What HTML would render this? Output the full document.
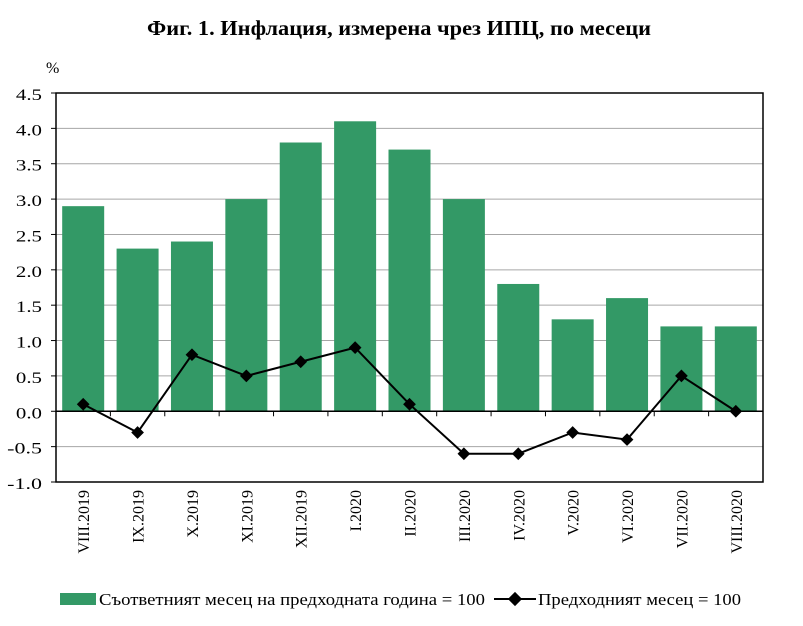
<!DOCTYPE html>
<html><head><meta charset="utf-8"><style>
body{margin:0;background:#fff;}
svg text{font-family:"Liberation Serif","DejaVu Serif",serif;}
</style></head><body>
<svg id="c" width="803" height="621" xmlns="http://www.w3.org/2000/svg">
<text x="147" y="35" textLength="504" lengthAdjust="spacingAndGlyphs" font-size="21" font-weight="bold">Фиг. 1. Инфлация, измерена чрез ИПЦ, по месеци</text>
<text x="46" y="73" font-size="16">%</text>
<g id="grid"></g><g id="bars"></g><g id="line"></g><g id="axes"></g>
<g>
<rect x="60" y="593" width="36" height="12" fill="#339966"/>
<text x="99" y="605" font-size="17" textLength="386" lengthAdjust="spacingAndGlyphs">Съответният месец на предходната година = 100</text>
<line x1="494" y1="599" x2="536" y2="599" stroke="#000" stroke-width="2"/>
<rect x="510" y="594" width="10" height="10" transform="rotate(45 515 599)" fill="#000"/>
<text x="538" y="605" font-size="17" textLength="203" lengthAdjust="spacingAndGlyphs">Предходният месец = 100</text>
</g>
</svg>
<script>
const categories=["VIII.2019","IX.2019","X.2019","XI.2019","XII.2019","I.2020","II.2020","III.2020","IV.2020","V.2020","VI.2020","VII.2020","VIII.2020"];
const yoyValues=[2.9,2.3,2.4,3.0,3.8,4.1,3.7,3.0,1.8,1.3,1.6,1.2,1.2];
const momValues=[0.1,-0.3,0.8,0.5,0.7,0.9,0.1,-0.6,-0.6,-0.3,-0.4,0.5,0.0];
const yTicks=["-1.0","-0.5","0.0","0.5","1.0","1.5","2.0","2.5","3.0","3.5","4.0","4.5"];
const L=56,R=763,T=93,B=482,ymin=-1,ymax=4.5;
const NS="http://www.w3.org/2000/svg";
const bw=(R-L)/categories.length;
function y(v){return B-(v-ymin)/(ymax-ymin)*(B-T);}
function x(i){return L+bw*(i+0.5);}
function mk(tag,attrs,parent){const e=document.createElementNS(NS,tag);for(const k in attrs)e.setAttribute(k,attrs[k]);document.getElementById(parent).appendChild(e);return e;}
yTicks.forEach(t=>{const v=parseFloat(t);
 const g=mk('line',{x1:L,x2:R,y1:y(v),y2:y(v),stroke:'#a6a6a6','stroke-width':1},'grid');
 
 
 const tk=mk('line',{x1:L-5,x2:L,y1:y(v),y2:y(v),stroke:'#000'},'axes');
 
 
 const tx=mk('text',{x:42,y:y(v)+7,'text-anchor':'end','font-size':16,textLength:t.length*8.7,lengthAdjust:'spacingAndGlyphs'},'axes');tx.textContent=t;
 
 
});
yoyValues.forEach((v,i)=>{
 const r=mk('rect',{x:x(i)-21,width:42,y:Math.min(y(v),y(0)),height:Math.abs(y(v)-y(0)),fill:'#339966'},'bars');
 
 
});
const pl=mk('polyline',{points:momValues.map((v,i)=>x(i)+','+y(v)).join(' '),fill:'none',stroke:'#000','stroke-width':2},'line');


momValues.forEach((v,i)=>{
 const m=mk('rect',{x:x(i)-4.5,y:y(v)-4.5,width:9,height:9,fill:'#000',transform:`rotate(45 ${x(i)} ${y(v)})`},'line');
 
 
});
const fr=mk('rect',{x:L,y:T,width:R-L,height:B-T,fill:'none',stroke:'#000','stroke-width':1.5},'axes');


const za=mk('line',{x1:L,x2:R,y1:y(0),y2:y(0),stroke:'#000','stroke-width':1.5},'axes');


categories.forEach((c,i)=>{
 const tk=mk('line',{x1:L+bw*(i+1),x2:L+bw*(i+1),y1:y(0),y2:y(0)+5,stroke:'#000'},'axes');
 
 
 const tx=mk('text',{x:0,y:0,'text-anchor':'end','font-size':16,transform:`translate(${x(i)+6},490) rotate(-90)`},'axes');tx.textContent=c;
 
 
});
</script>
</body></html>
